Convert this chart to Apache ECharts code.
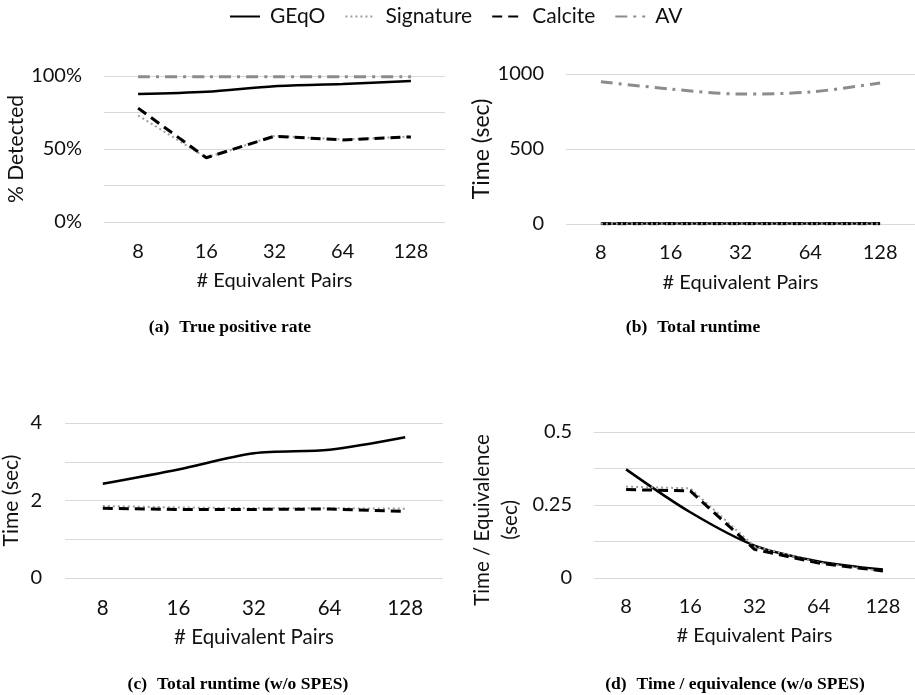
<!DOCTYPE html>
<html lang="en">
<head>
<meta charset="UTF-8">
<title>Equivalence detection: rate and runtime</title>
<script src="https://cdn.jsdelivr.net/npm/echarts@6/dist/echarts.min.js"></script>
<style>
  html, body { margin: 0; padding: 0; width: 100%; height: 100%; background: #fff; }
  #chart { width: 915px; height: 695px; }
</style>
</head>
<body>
<div id="chart"></div>
<script>
// x categories (# equivalent pairs)
const pairCounts = ['8', '16', '32', '64', '128']
const methodNames = ['GEqO', 'Signature', 'Calcite', 'AV']

// (a) true positive rate, %
const detectedGEqO = [87.7, 89.2, 93, 94.5, 96.5]
const detectedSignature = [73, 44, 59, 56.5, 58.5]
const detectedCalcite = [78, 44, 58.8, 56.2, 58.3]
const detectedAV = [99.5, 99.5, 99.5, 99.5, 99.5]

// (b) total runtime, sec
const runtimeAV = [948, 900, 866, 880, 940]

// (c) total runtime w/o SPES, sec (also drawn in b)
const runtimeGEqO = [2.43, 2.8, 3.22, 3.31, 3.63]
const runtimeSignature = [1.86, 1.82, 1.8, 1.8, 1.79]
const runtimeCalcite = [1.8, 1.77, 1.77, 1.78, 1.72]

// (d) time per equivalence w/o SPES, sec
const perEqGEqO = [0.372, 0.225, 0.111, 0.057, 0.029]
const perEqSignature = [0.313, 0.307, 0.108, 0.053, 0.023]
const perEqCalcite = [0.303, 0.298, 0.098, 0.051, 0.024]

const FONT = 'Lato'
const TEXT = '#111'
const GRIDLINE = '#d9d9d9'

const styles = {
  GEqO: { color: '#000', width: 2.5, type: 'solid', smooth: 0.3 },
  Signature: { color: '#9f9f9f', width: 2, type: [2, 3], smooth: false },
  Calcite: { color: '#000', width: 3, type: [10, 6], smooth: false },
  AV: { color: '#8c8c8c', width: 3, type: [12, 6, 3, 6], smooth: 0.3 }
}

function line (name, data, idx) {
  const s = styles[name]
  return {
    name: name,
    type: 'line',
    xAxisIndex: idx,
    yAxisIndex: idx,
    data: data,
    symbol: 'none',
    smooth: s.smooth,
    color: s.color,
    lineStyle: { color: s.color, width: s.width, type: s.type, cap: 'butt' },
    animation: false
  }
}

function xAxis (idx, size, labelMargin, nameGap) {
  return {
    type: 'category',
    gridIndex: idx,
    data: pairCounts,
    name: '# Equivalent Pairs',
    nameLocation: 'middle',
    nameGap: nameGap,
    nameTextStyle: { fontFamily: FONT, fontSize: size, color: TEXT },
    axisLine: { show: false },
    axisTick: { show: false },
    axisLabel: { fontFamily: FONT, fontSize: size, color: TEXT, margin: labelMargin }
  }
}

function yAxis (idx, opts) {
  return {
    type: 'value',
    gridIndex: idx,
    min: 0,
    max: opts.max,
    interval: opts.interval,
    name: opts.name,
    nameLocation: 'middle',
    nameRotate: 90,
    nameGap: opts.nameGap,
    nameTextStyle: Object.assign({ fontFamily: FONT, fontSize: opts.nameSize, color: TEXT }, opts.nameStyle || {}),
    axisLine: { show: false },
    axisTick: { show: false },
    splitLine: { lineStyle: { color: GRIDLINE, width: 1 } },
    axisLabel: {
      fontFamily: FONT, fontSize: 20, color: TEXT, margin: opts.labelMargin,
      formatter: opts.formatter
    }
  }
}

function caption (tag, text, cx, top) {
  return {
    text: '{n|' + tag + '}  {b|' + text + '}',
    left: cx,
    top: top,
    textAlign: 'center',
    textStyle: {
      rich: {
        n: { fontFamily: 'Liberation Serif', fontSize: 17.5, color: '#000' },
        b: { fontFamily: 'Liberation Serif', fontSize: 17.5, fontWeight: 'bold', color: '#000' }
      }
    }
  }
}

const chart = echarts.init(document.getElementById('chart'), null, { renderer: 'canvas' })

chart.setOption({
  backgroundColor: '#fff',
  animation: false,
  legend: {
    data: methodNames,
    left: 224,
    top: 1,
    itemWidth: 30,
    itemHeight: 12,
    itemGap: 19,
    itemStyle: { opacity: 0 },
    textStyle: { fontFamily: FONT, fontSize: 21, color: TEXT, padding: [0, 0, 0, 5] }
  },
  title: [
    caption('(a)', 'True positive rate', 225, 313),
    caption('(b)', 'Total runtime', 688, 313),
    caption('(c)', 'Total runtime (w/o SPES)', 233, 670),
    caption('(d)', 'Time / equivalence (w/o SPES)', 730, 670)
  ],
  grid: [
    { left: 104, top: 76, width: 341, height: 146 },
    { left: 566, top: 74, width: 349, height: 150 },
    { left: 57, top: 423, width: 386, height: 155 },
    { left: 594, top: 432, width: 321, height: 146 }
  ],
  xAxis: [xAxis(0, 20, 20, 49), xAxis(1, 20, 19, 49), xAxis(2, 20.5, 20, 49), xAxis(3, 20, 19, 48)],
  yAxis: [
    yAxis(0, {
      max: 100, interval: 25, name: '% Detected', nameSize: 21, nameGap: 77, labelMargin: 22,
      formatter: v => (v % 50 === 0 ? v + '%' : '')
    }),
    yAxis(1, {
      max: 1000, interval: 500, name: 'Time (sec)', nameSize: 23, nameGap: 73, labelMargin: 22,
      formatter: v => String(v)
    }),
    yAxis(2, {
      max: 4, interval: 1, name: 'Time (sec)', nameSize: 21, nameGap: 43, labelMargin: 23,
      formatter: v => (v % 2 === 0 ? String(v) : '')
    }),
    yAxis(3, {
      max: 0.5, interval: 0.125, name: 'Time / Equivalence\n(sec)', nameSize: 20.5, nameGap: 70, labelMargin: 22,
      nameStyle: { lineHeight: 28, padding: [0, 30, 0, 0] },
      formatter: v => (Math.abs(v % 0.25) < 1e-9 ? String(v) : '')
    })
  ],
  series: [
    line('GEqO', detectedGEqO, 0),
    line('Signature', detectedSignature, 0),
    line('Calcite', detectedCalcite, 0),
    line('AV', detectedAV, 0),

    line('GEqO', runtimeGEqO, 1),
    line('Calcite', runtimeCalcite, 1),
    line('Signature', runtimeSignature, 1),
    line('AV', runtimeAV, 1),

    line('GEqO', runtimeGEqO, 2),
    line('Signature', runtimeSignature, 2),
    line('Calcite', runtimeCalcite, 2),

    line('GEqO', perEqGEqO, 3),
    line('Signature', perEqSignature, 3),
    line('Calcite', perEqCalcite, 3)
  ]
})

window.addEventListener('resize', () => chart.resize())
</script>
</body>
</html>
